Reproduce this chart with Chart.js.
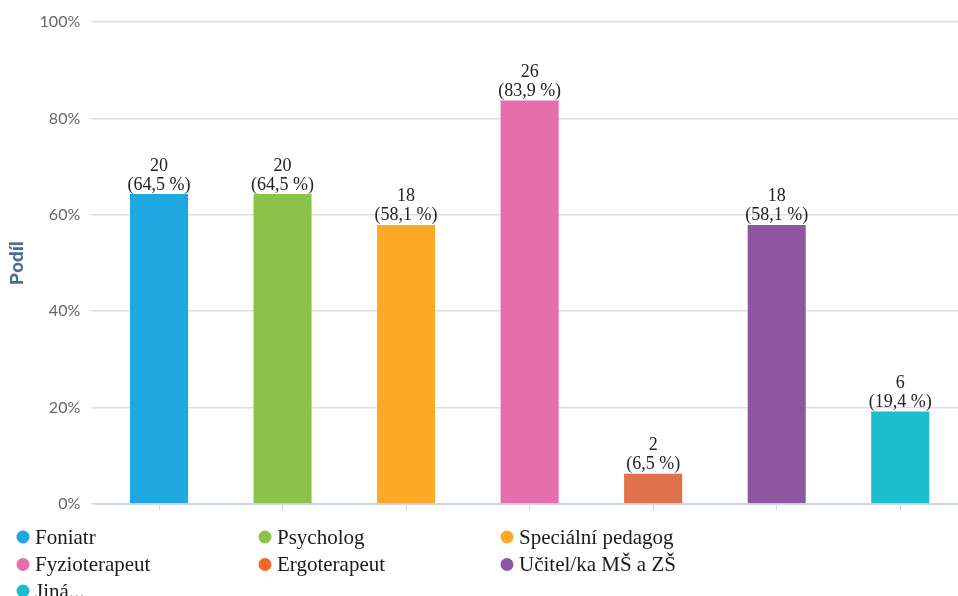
<!DOCTYPE html>
<html>
<head>
<meta charset="utf-8">
<script src="https://cdn.jsdelivr.net/npm/chart.js@4/dist/chart.umd.min.js"></script>
<style>
  html, body { margin: 0; padding: 0; background: #fff; overflow: hidden; width: 958px; height: 596px; }
  canvas { display: block; }
</style>
</head>
<body>
<canvas id="c" width="962" height="596"></canvas>
<script>
// ---- data ----
const categories = ["Foniatr", "Psycholog", "Speciální pedagog", "Fyzioterapeut", "Ergoterapeut", "Učitel/ka MŠ a ZŠ", "Jiná..."];
const counts = [20, 20, 18, 26, 2, 18, 6];
const percents = [64.5, 64.5, 58.1, 83.9, 6.5, 58.1, 19.4];
const yTickValues = [0, 20, 40, 60, 80, 100];
const yTitle = "Podíl";

// ---- styles ----
const barColors = ["#1fa7e0", "#8bc34a", "#fba927", "#e66eaa", "#e07249", "#8e55a0", "#1bbccc"];
const legendColors = ["#1fa7e0", "#8bc34a", "#fba927", "#e66eaa", "#f0682c", "#8e55a0", "#1bbccc"];

const dataLabels = {
  id: 'dataLabels',
  afterDatasetsDraw(chart) {
    const ctx = chart.ctx;
    const meta = chart.getDatasetMeta(0);
    ctx.save();
    ctx.font = '18px "Liberation Serif", "Times New Roman", serif';
    ctx.fillStyle = '#222';
    ctx.textAlign = 'center';
    ctx.textBaseline = 'alphabetic';
    meta.data.forEach((bar, i) => {
      const pct = percents[i].toFixed(1).replace('.', ',');
      ctx.fillText(String(counts[i]), bar.x, bar.y - 22.5);
      ctx.fillText('(' + pct + ' %)', bar.x, bar.y - 3.5);
    });
    ctx.restore();
  }
};

const bottomLegend = {
  id: 'bottomLegend',
  afterDraw(chart) {
    const ctx = chart.ctx;
    const colX = [23, 265, 507];
    const rowY = [537, 564.5, 591];
    ctx.save();
    ctx.font = '21px "Liberation Serif", "Times New Roman", serif';
    ctx.textAlign = 'left';
    ctx.textBaseline = 'middle';
    chart.data.labels.forEach((lab, i) => {
      const x = colX[i % 3];
      const y = rowY[Math.floor(i / 3)];
      ctx.fillStyle = legendColors[i];
      ctx.beginPath();
      ctx.arc(x, y, 6.5, 0, Math.PI * 2);
      ctx.fill();
      ctx.fillStyle = '#1a1a1a';
      ctx.fillText(lab, x + 12, y + 1);
    });
    ctx.restore();
  }
};

new Chart(document.getElementById('c'), {
  type: 'bar',
  data: {
    labels: categories,
    datasets: [{
      data: percents,
      backgroundColor: barColors,
      borderColor: 'rgba(255,255,255,0.45)',
      borderWidth: 1,
      barPercentage: 0.486,
      categoryPercentage: 1.0
    }]
  },
  options: {
    responsive: false,
    animation: false,
    devicePixelRatio: 1,
    layout: { padding: { top: 22, right: 0, bottom: 0, left: 0 } },
    plugins: {
      legend: { display: false },
      tooltip: { enabled: false },
      title: { display: false }
    },
    scales: {
      x: {
        offset: true,
        grid: {
          offset: false,
          drawOnChartArea: false,
          drawTicks: true,
          tickLength: 6,
          color: '#ccd6eb',
          lineWidth: 1
        },
        border: { display: true, color: '#ccd6eb', width: 1 },
        ticks: { display: false },
        afterFit(s) { s.height = 92; }
      },
      y: {
        min: 0,
        max: 100,
        afterBuildTicks(s) { s.ticks = yTickValues.map(v => ({ value: v })); },
        grid: {
          color: (c) => c.tick && c.tick.value === 0 ? '#ccd6eb' : '#dedede',
          lineWidth: 1.5,
          drawTicks: true,
          tickLength: 6
        },
        border: { display: false },
        ticks: {
          padding: 11,
          color: '#666',
          font: { family: 'Lato', size: 16 },
          callback: v => v + '%'
        },
        title: {
          display: true,
          text: yTitle,
          color: '#4a6d99',
          font: { family: 'Roboto', size: 19, weight: 'bold' },
          padding: { top: 7, bottom: 0 }
        },
        afterFit(s) { s.width = 97.25; }
      }
    }
  },
  plugins: [dataLabels, bottomLegend]
});
</script>
</body>
</html>
